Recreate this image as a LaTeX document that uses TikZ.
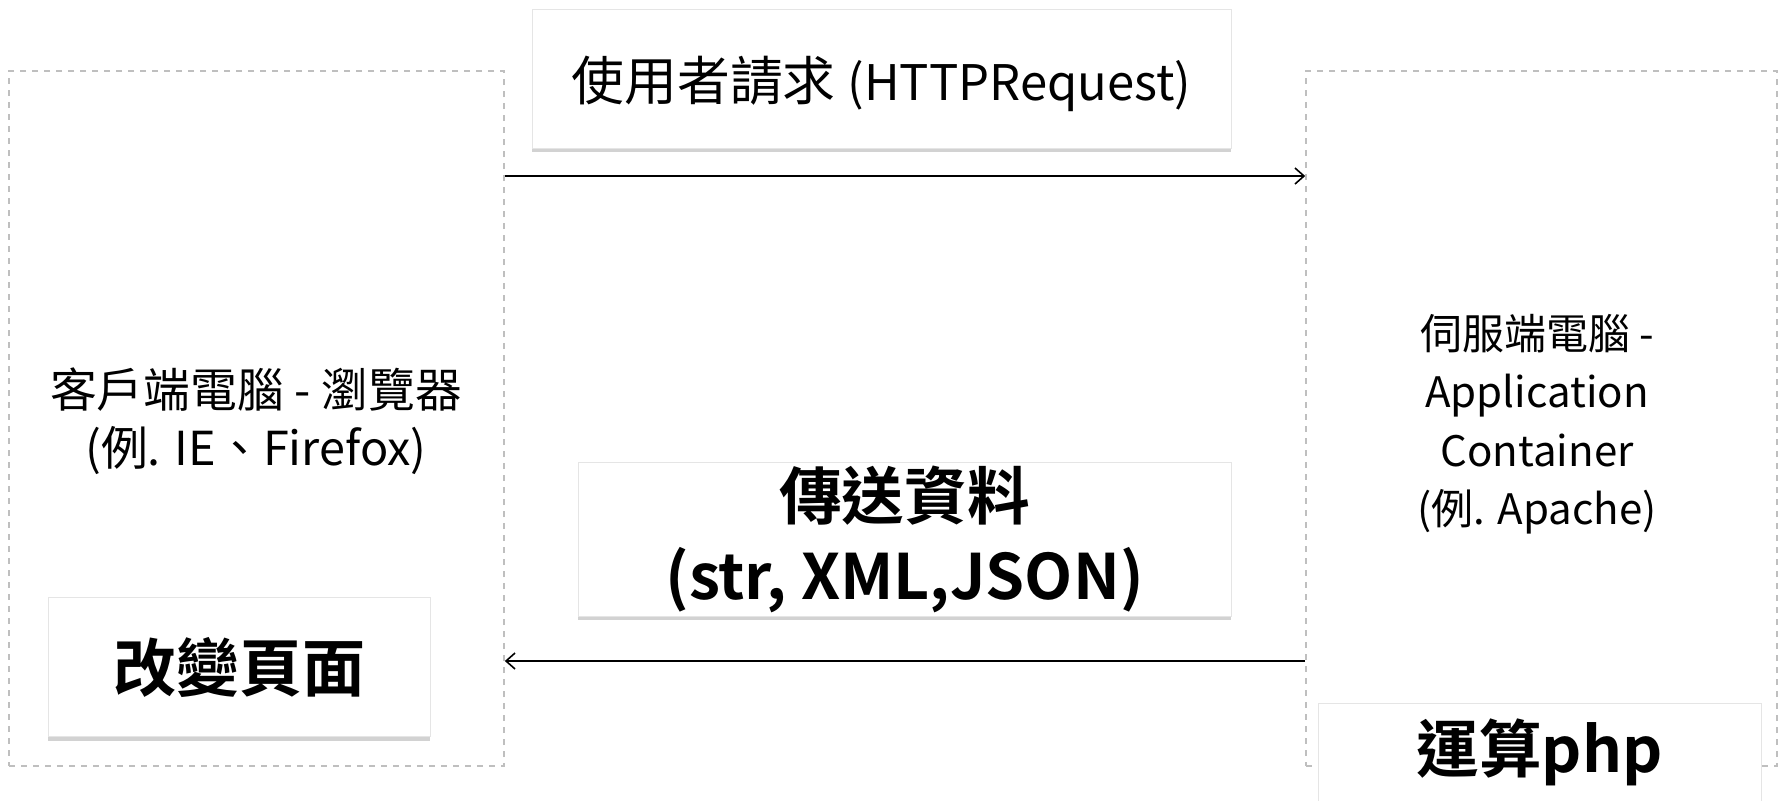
\documentclass[tikz,border=0pt]{standalone}
\usepackage{fontspec}
\setmainfont{Noto Sans CJK TC}[BoldFont={Noto Sans CJK TC Bold}]
\usetikzlibrary{arrows.meta,shadows}

\tikzset{
  machine/.style={draw=black!25, dashed, line width=0.8pt, rectangle, inner sep=0pt},
  msgbox/.style={draw=black!10, fill=white, rectangle, inner sep=0pt, align=center,
    drop shadow={shadow xshift=0pt, shadow yshift=-2pt, opacity=0.25, fill=black!70}},
  conn/.style={line width=0.8pt, -{Straight Barb[length=4.5pt,width=8pt,line width=0.8pt]}}
}

\begin{document}
\begin{tikzpicture}[x=0.5pt,y=-0.5pt]
\useasboundingbox (0,0) rectangle (1785,800);

% client and server
\node[machine, minimum width=247.5pt, minimum height=347.5pt] (client) at (256.5,418.5) {};
\node[machine, minimum width=235.5pt, minimum height=347.5pt] (server) at (1541.5,418.5) {};
\node[align=center, font=\fontsize{23.4}{29}\selectfont] (clienttxt) at (256,421)
  {客戶端電腦 - 瀏覽器\\(例. IE、Firefox)};
\node[align=center, font=\fontsize{21}{29.2}\selectfont] (servertxt) at (1537,424)
  {伺服端電腦 -\\Application\\Container\\(例. Apache)};

% messages
\node[msgbox, minimum width=349.5pt, minimum height=69.5pt, text height=27pt, text depth=5pt,
  font=\fontsize{26.4}{32}\selectfont] (req) at (881.5,78.5)
  {使用者請求 {\fontsize{24.5}{32}\selectfont(HTTPRequest)}};
\node[msgbox, minimum width=326.5pt, minimum height=77pt, font=\bfseries\fontsize{31.3}{40}\selectfont] (data) at (904.5,539)
  {傳送資料\\(str, XML,JSON)};
\node[msgbox, minimum width=191pt, minimum height=69.5pt, font=\bfseries\fontsize{31.5}{38}\selectfont] (change) at (239,667)
  {改變頁面};
\node[msgbox, minimum width=221.5pt, minimum height=49pt, font=\bfseries\fontsize{31.3}{38}\selectfont] (php) at (1539.5,752)
  {運算php};

\draw[conn] (client.north east |- 0,176) -- (server.north west |- 0,176);
\draw[conn] (server.north west |- 0,661) -- (client.north east |- 0,661);
\end{tikzpicture}
\end{document}
